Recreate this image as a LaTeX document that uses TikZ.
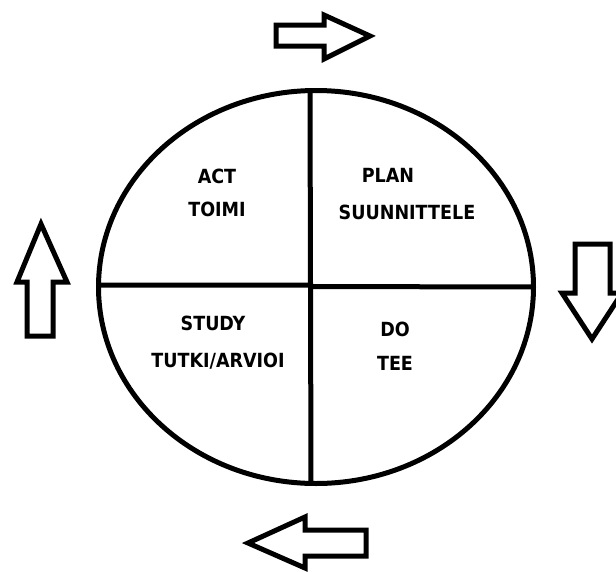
\documentclass[tikz,border=0pt]{standalone}
\usepackage{fontspec}
\setmainfont{DejaVu Sans Condensed}
\begin{document}
\begin{tikzpicture}[x=1pt,y=-1pt,
  outline/.style={line width=5pt, line join=miter, draw=black, fill=white},
  lbl/.style={font=\bfseries\fontsize{19.5}{21}\selectfont, inner sep=0pt, text=black}]
\useasboundingbox[fill=white] (0,0) rectangle (616,571);
% ellipse
\draw[outline] (316,287) ellipse [x radius=217.5, y radius=196.5];
\coordinate (vt) at (310,90);
\coordinate (vb) at (311,484);
\coordinate (vm) at (310.5,286);
\coordinate (hl) at (98,285);
\coordinate (hr) at (534,287);
\draw[line width=5pt] (vt) -- (vb);
\draw[line width=5pt] (hl) -- (vm |- hl) -- ++(0,1.5) -- (hr);
% labels
\node[lbl] (act) at (217,176) {ACT};
\node[lbl] (toimi) at (217,209) {TOIMI};
\node[lbl] (plan) at (388,175) {PLAN};
\node[lbl] (suun) at (407,212) {SUUNNITTELE};
\node[lbl] (study) at (213,323) {STUDY};
\node[lbl] (tutki) at (218,361) {TUTKI/ARVIOI};
\node[lbl] (do) at (395,329) {DO};
\node[lbl] (tee) at (395,363) {TEE};
% top arrow (right)
\draw[outline] (276,25) -- (324,25) -- (324,15) -- (370,36) -- (324,59) -- (324,46) -- (276,46) -- cycle;
% right arrow (down)
\draw[outline] (575,244) -- (610,244) -- (610,293) -- (622,293) -- (592,339) -- (562,293) -- (575,293) -- cycle;
% left arrow (up)
\draw[outline] (27,336) -- (27,282) -- (17,282) -- (41,224) -- (67,282) -- (53,282) -- (53,336) -- cycle;
% bottom arrow (left)
\draw[outline] (366,530) -- (305,530) -- (305,517) -- (248,543) -- (305,568) -- (305,556) -- (366,556) -- cycle;
\end{tikzpicture}
\end{document}
